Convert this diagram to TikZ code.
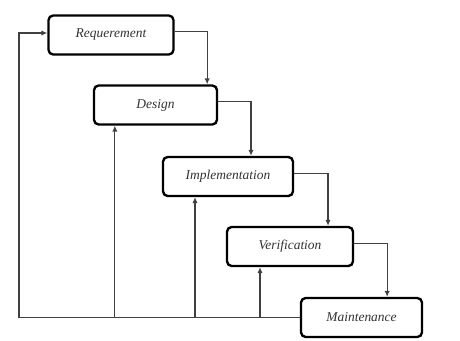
\documentclass[tikz,border=0pt]{standalone}
\usepackage{fontspec}
\setmainfont{Liberation Serif}
\usetikzlibrary{arrows.meta}

\tikzset{
	phase/.style={draw, line width=2pt, rounded corners=4pt, fill=white, inner sep=0pt,
		minimum height=1.17cm, font=\itshape\fontsize{11.5}{13}\selectfont, text=black!80},
	flow/.style={draw=black!75, line width=1pt, -{Latex[length=5pt,width=4.5pt]}},
	link/.style={draw=black!75, line width=1pt}
}

\begin{document}
\begin{tikzpicture}[x=0.03cm, y=-0.03cm]
			\useasboundingbox (0,0) rectangle (460,340);
			
			\node[phase, minimum width=3.75cm] (req) at (111,35) {Requerement};
			\node[phase, minimum width=3.69cm] (des) at (155.5,105) {Design};
			\node[phase, minimum width=3.9cm] (imp) at (228,176.5) {Implementation};
			\node[phase, minimum width=3.78cm] (ver) at (290,246.5) {Verification};
			\node[phase, minimum width=3.63cm] (mai) at (361.5,317.5) {Maintenance};
			
			\draw[flow] ([yshift=0.1cm]req.east) -| ([xshift=1.55cm]des.north);
			\draw[flow] ([yshift=0.1cm]des.east) -| ([xshift=0.69cm]imp.north);
			\draw[flow] ([yshift=0.1cm]imp.east) -| ([xshift=1.14cm]ver.north);
			\draw[flow] ([yshift=0.08cm]ver.east) -| ([xshift=0.77cm]mai.north);
			
			\coordinate (back) at (19,318);
			\draw[flow] (mai.west) -- (mai.west -| back) |- ([yshift=0.06cm]req.west);
			
			\coordinate (dfoot) at ([xshift=-1.22cm]des.south);
			\coordinate (ifoot) at ([xshift=-0.99cm]imp.south);
			\coordinate (vfoot) at ([xshift=-0.9cm]ver.south);
			\draw[flow] (mai.west -| dfoot) -- (dfoot);
			\draw[flow] (mai.west -| ifoot) -- (ifoot);
			\draw[flow] (mai.west -| vfoot) -- (vfoot);
		\end{tikzpicture}
\end{document}
